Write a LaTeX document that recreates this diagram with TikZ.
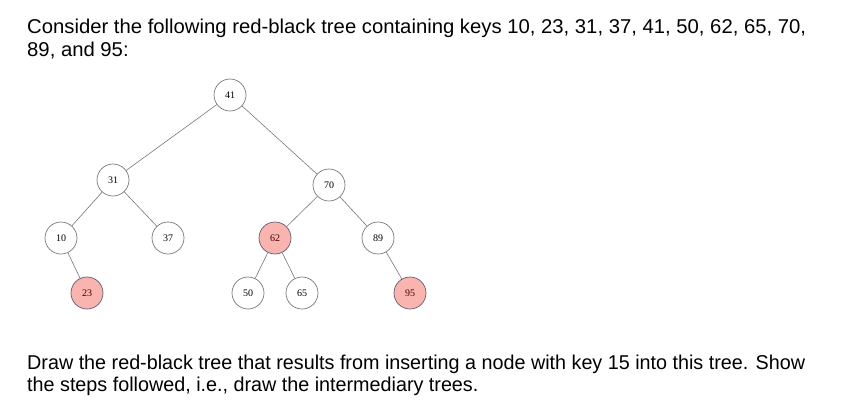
\documentclass[tikz,border=0pt]{standalone}
\usepackage{fontspec}
\setmainfont{Liberation Sans}
\newfontfamily\nodefont{Liberation Serif}
\usepackage{graphicx}
\definecolor{rbred}{RGB}{250,180,175}
\definecolor{rbredline}{RGB}{95,90,115}
\definecolor{rbgray}{RGB}{120,120,120}
\newsavebox\lineAbox
\newsavebox\lineCbox
\begin{document}
\sbox\lineAbox{\fontsize{20}{23}\selectfont Consider the following red-black tree containing keys 10, 23, 31, 37, 41, 50, 62, 65, 70,}
\sbox\lineCbox{\fontsize{20}{23}\selectfont Draw the red-black tree that results from inserting a node with key 15 into this tree. Show}
\pgfmathsetmacro\sxA{779/\wd\lineAbox}
\pgfmathsetmacro\sxC{778/\wd\lineCbox}
\begin{tikzpicture}[x=1pt,y=-1pt,
  txt/.style={anchor=base west,inner sep=0pt,font=\fontsize{20}{23}\selectfont},
  rbnode/.style={circle,draw=rbgray,fill=white,line width=0.7pt,minimum size=32pt,inner sep=0pt,font=\nodefont\fontsize{10}{12}\selectfont},
  rednode/.style={rbnode,fill=rbred,draw=rbredline,text=black!75!red},
  edge/.style={draw=rbgray,line width=0.6pt}]
\useasboundingbox (0,0) rectangle (865,405);
\fill[white] (0,0) rectangle (865,405);
\node[txt] (t1) at (27,33) {\scalebox{\sxA}[1]{Consider the following red-black tree containing keys 10, 23, 31, 37, 41, 50, 62, 65, 70,}};
\node[txt] (t2) at (27,56) {\scalebox{\sxA}[1]{89, and 95:}};
\node[txt] (t3) at (27,369) {\scalebox{\sxC}[1]{Draw the red-black tree that results from inserting a node with key 15 into this tree. Show}};
\node[txt] (t4) at (27,391) {\scalebox{\sxC}[1]{the steps followed, i.e., draw the intermediary trees.}};
\node[rbnode] (n41) at (230,95) {41};
\node[rbnode] (n31) at (113,180) {31};
\node[rbnode] (n70) at (329,185) {70};
\node[rbnode] (n10) at (61,238) {10};
\node[rbnode] (n37) at (168,238) {37};
\node[rednode] (n62) at (275,238) {62};
\node[rbnode] (n89) at (378,238) {89};
\node[rednode] (n23) at (87,293) {23};
\node[rbnode] (n50) at (248,293) {50};
\node[rbnode] (n65) at (302,293) {65};
\node[rednode] (n95) at (410,293) {95};
\path[edge] (n41) -- (n31);
\path[edge] (n41) -- (n70);
\path[edge] (n31) -- (n10);
\path[edge] (n31) -- (n37);
\path[edge] (n70) -- (n62);
\path[edge] (n70) -- (n89);
\path[edge] (n10) -- (n23);
\path[edge] (n62) -- (n50);
\path[edge] (n62) -- (n65);
\path[edge] (n89) -- (n95);
\end{tikzpicture}
\end{document}
